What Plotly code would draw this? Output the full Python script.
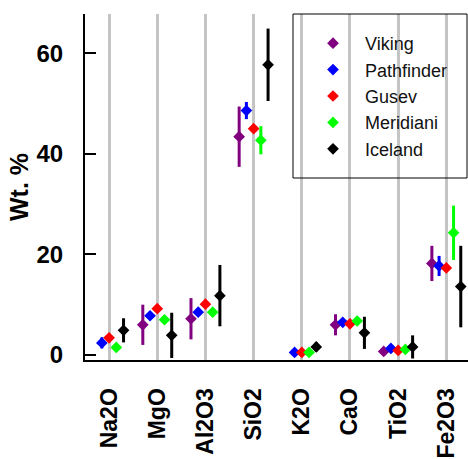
import plotly.graph_objects as go

categories = ["Na2O", "MgO", "Al2O3", "SiO2", "K2O", "CaO", "TiO2", "Fe2O3"]
series_names = ["Viking", "Pathfinder", "Gusev", "Meridiani", "Iceland"]
series_colors = ["#800080", "#0000FF", "#FF0000", "#00FF00", "#000000"]

viking = [None, 6.0, 7.2, 43.4, None, 6.0, 0.7, 18.2]
viking_err = [0, 4.0, 4.1, 6.0, 0, 2.1, 0, 3.5]
pathfinder = [2.4, 7.8, 8.5, 48.6, 0.5, 6.5, 1.3, 17.7]
pathfinder_err = [1.1, 0, 0, 1.7, 0, 0, 0, 2.0]
gusev = [3.4, 9.2, 10.1, 45.0, 0.5, 6.2, 0.9, 17.3]
gusev_err = [0, 0, 0, 0, 0, 0, 0, 0]
meridiani = [1.5, 7.0, 8.5, 42.7, 0.5, 6.75, 1.1, 24.3]
meridiani_err = [0, 0, 0.7, 2.8, 0, 0.5, 0, 5.4]
iceland = [4.9, 3.9, 11.8, 57.7, 1.6, 4.4, 1.6, 13.6]
iceland_err = [2.4, 4.5, 6.1, 7.2, 0.9, 3.2, 2.3, 8.1]

values = [viking, pathfinder, gusev, meridiani, iceland]
errors = [viking_err, pathfinder_err, gusev_err, meridiani_err, iceland_err]

W, H = 468, 459
ML, MR, MT, MB = 85, 0, 14, 99
PW, PH = W - ML - MR, H - MT - MB

offsets = [-0.3, -0.15, 0.0, 0.15, 0.3]
FONT = "Liberation Sans, Arial, sans-serif"

fig = go.Figure()
for name, col, vals, errs, off in zip(series_names, series_colors, values, errors, offsets):
    xs = [i + 1 + off for i in range(len(categories))]
    fig.add_trace(go.Scatter(
        x=xs, y=vals, mode="markers", name=name,
        marker=dict(symbol="diamond", size=9, color=col, line=dict(width=0)),
        error_y=dict(type="data", array=errs, visible=True, color=col,
                     thickness=3, width=0),
    ))

def px_x(p):
    return (p - ML) / PW

def px_y(p):
    return (H - MB - p) / PH

fig.add_shape(type="rect", xref="paper", yref="paper",
              x0=px_x(293), x1=px_x(467), y0=px_y(178), y1=px_y(14),
              line=dict(color="black", width=1), fillcolor="rgba(0,0,0,0)")

fig.update_layout(
    width=W, height=H,
    margin=dict(l=ML, r=MR, t=MT, b=MB, pad=0),
    paper_bgcolor="white", plot_bgcolor="white",
    showlegend=True,
    legend=dict(x=px_x(301), y=px_y(25), xanchor="left", yanchor="top",
                bgcolor="rgba(0,0,0,0)", borderwidth=0, itemwidth=54,
                font=dict(family=FONT, size=18, color="#111111")),
    xaxis=dict(range=[0.5, 8.45], tickmode="array", automargin=False,
               tickvals=list(range(1, len(categories) + 1)), ticktext=categories,
               tickangle=-90, ticks="", showgrid=True, gridcolor="#c4c4c4",
               gridwidth=2.5, zeroline=False, showline=True, linecolor="black",
               linewidth=2, ticklabelstandoff=17,
               tickfont=dict(family=FONT, size=23, color="black", weight="bold")),
    yaxis=dict(range=[-1.0, 67.8], tickvals=[0, 20, 40, 60], ticks="inside",
               automargin=False,
               ticklen=11, tickwidth=2, tickcolor="black", showgrid=False,
               zeroline=False, showline=True, linecolor="black", linewidth=2,
               ticklabelstandoff=15,
               tickfont=dict(family=FONT, size=24, color="black", weight="bold"),
               title=dict(text="Wt. %", standoff=1,
                          font=dict(family=FONT, size=25, color="black", weight="bold"))),
)

fig.write_html("out.html")
